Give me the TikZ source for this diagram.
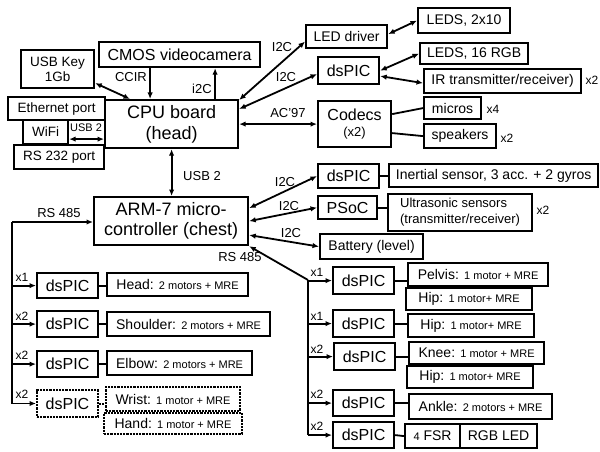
\documentclass[tikz,border=0pt]{standalone}
\usepackage{fontspec}
\setmainfont{Liberation Sans}
\usetikzlibrary{arrows.meta}
\newcommand{\smalltxt}[1]{{\fontsize{11}{12}\selectfont #1}}
\tikzset{
  box/.style={draw, line width=2.2pt, inner sep=0pt, anchor=north west, align=center, font=\fontsize{14}{15}\selectfont},
  sz/.style 2 args={minimum width=#1, minimum height=#2},
  big/.style={font=\fontsize{18}{21}\selectfont},
  chip/.style={font=\fontsize{16}{17}\selectfont},
  dots/.style={densely dotted, line width=2pt},
  lbl/.style={inner sep=0pt, font=\fontsize{13}{14}\selectfont},
  xlbl/.style={inner sep=0pt, font=\fontsize{12}{13}\selectfont},
  link/.style={line width=1.8pt},
}

\begin{document}
\begin{tikzpicture}[x=1pt,y=-1pt,>={Latex[length=6.5pt,width=5.5pt]}]
        \useasboundingbox (0,0) rectangle (600,452);

        % head
        \node[box, sz={73}{38}, font=\fontsize{13.5}{15}\selectfont] (usbkey) at (20,49) {USB Key\\1Gb};
        \node[box, chip, sz={161}{25}] (cmos) at (98,41) {CMOS videocamera};
        \node[box, big, sz={133}{48}] (cpu) at (104,99) {CPU board\\(head)};
        \node[box, sz={97}{23}, font=\fontsize{13.5}{15}\selectfont] (eth) at (7,96) {Ethernet port};
        \node[box, sz={45}{24}, font=\fontsize{13.5}{15}\selectfont] (wifi) at (22,119) {WiFi};
        \node[box, sz={90}{24}, font=\fontsize{13.5}{15}\selectfont] (rs232) at (13,144) {RS 232 port};
        \node[box, big, sz={154}{48}, font=\fontsize{18}{20}\selectfont] (arm) at (93,196) {ARM-7 micro-\\controller (chest)};

        \node[box, sz={81}{23}] (leddrv) at (305,24) {LED driver};
        \node[box, sz={92}{25}] (leds2) at (417,7) {LEDS, 2x10};
        \node[box, sz={108}{21}] (leds16) at (419,42) {LEDS, 16 RGB};
        \node[box, chip, sz={61}{27}] (dspicA) at (317,56) {dsPIC};
        \node[box, sz={157}{24}] (ir) at (423,68) {IR transmitter/receiver)};
        \node[box, chip, sz={73}{46}] (codecs) at (317,100) {Codecs\\[-1pt]{\fontsize{13}{14}\selectfont(x2)}};
        \node[box, sz={57}{22}] (micros) at (423,96) {micros};
        \node[box, sz={72}{24}] (speakers) at (423,123) {speakers};
        \node[xlbl] (xir) at (592,80) {x2};
        \node[xlbl] (xmic) at (493,109) {x4};
        \node[xlbl] (xspk) at (507,138) {x2};

        % chest
        \node[box, chip, sz={61}{24}] (dspicI) at (317,163) {dsPIC};
        \node[box, sz={209}{23}] (inertial) at (388,163) {Inertial sensor, 3 acc. + 2 gyros};
        \node[box, chip, sz={59}{23}] (psoc) at (317,195) {PSoC};
        \node[box, sz={144}{37}, align=left, font=\fontsize{13}{16}\selectfont] (ultra) at (387,193) {Ultrasonic sensors\\(transmitter/receiver)};
        \node[xlbl] (xultra) at (543,210) {x2};
        \node[box, sz={103}{25}] (battery) at (319,233) {Battery (level)};

        % arms
        \node[box, chip, sz={61}{25}] (dspicH) at (36,272) {dsPIC};
        \node[box, sz={141}{23}] (head) at (106,272) {Head: \smalltxt{2 motors + MRE}};
        \node[box, chip, sz={61}{26}] (dspicS) at (36,310) {dsPIC};
        \node[box, sz={163}{24}] (shoulder) at (106,311) {Shoulder: \smalltxt{2 motors + MRE}};
        \node[box, chip, sz={61}{26}] (dspicE) at (36,350) {dsPIC};
        \node[box, sz={145}{24}] (elbow) at (106,350) {Elbow: \smalltxt{2 motors + MRE}};
        \node[box, chip, dots, sz={61}{27}] (dspicW) at (36,389) {dsPIC};
        \node[box, dots, sz={134}{24}] (wrist) at (105,386) {Wrist: \smalltxt{1 motor + MRE}};
        \node[box, dots, sz={138}{21}] (hand) at (103,412) {Hand: \smalltxt{1 motor + MRE}};

        % legs
        \node[box, chip, sz={61}{27}] (dspicP) at (332,266) {dsPIC};
        \node[box, sz={140}{23}] (pelvis) at (407,262) {Pelvis: \smalltxt{1 motor + MRE}};
        \node[box, sz={126}{22}] (hipA) at (405,287) {Hip: \smalltxt{1 motor+ MRE}};
        \node[box, chip, sz={61}{27}] (dspicHp) at (332,309) {dsPIC};
        \node[box, sz={126}{23}] (hipB) at (407,313) {Hip: \smalltxt{1 motor+ MRE}};
        \node[box, chip, sz={61}{27}] (dspicK) at (333,342) {dsPIC};
        \node[box, sz={135}{22}] (knee) at (408,341) {Knee: \smalltxt{1 motor + MRE}};
        \node[box, sz={126}{22}] (hipC) at (406,365) {Hip: \smalltxt{1 motor+ MRE}};
        \node[box, chip, sz={61}{26}] (dspicAn) at (332,389) {dsPIC};
        \node[box, sz={143}{25}] (ankle) at (408,393) {Ankle: \smalltxt{2 motors + MRE}};
        \node[box, chip, sz={61}{26}] (dspicF) at (332,421) {dsPIC};
        \node[box, sz={55}{24}] (fsr) at (404,423) {\smalltxt{4} FSR};
        \node[box, sz={77}{24}] (rgb) at (459,423) {RGB LED};

        % buses
        \coordinate (lbus) at (12,222);
        \coordinate (rbus) at (308,280);

        % links around the CPU board
        \draw[link, <->] ([yshift=-14pt]usbkey.east) -- ([xshift=26pt]cpu.north west);
        \draw[link, ->] ([xshift=-29.5pt]cmos.south) -- ([xshift=-29.5pt]cmos.south |- cpu.north);
        \draw[link, ->] ([xshift=43.5pt]cpu.north) -- ([xshift=43.5pt]cpu.north |- cmos.south);
        \draw[link, <->] ([yshift=-7pt]wifi.east) -- ([yshift=-7pt]wifi.east -| cpu.west);
        \draw[link, <->] (cpu.south) -- (cpu.south |- arm.north);
        \draw[link, <->] ([yshift=-1pt]cpu.north east) -- ([yshift=-5pt]leddrv.west);
        \draw[link, <->] ([yshift=-10pt]cpu.north east) -- ([yshift=-3.5pt]dspicA.west);
        \draw[link, <->] (cpu.east) -- (codecs.west);
        \draw[link, <->] ([yshift=2.5pt]leddrv.east) -- (leds2.west);
        \draw[link, <->] (dspicA.east) -- (leds16.west);
        \draw[link, <->] ([yshift=-5.5pt]dspicA.east) -- ([yshift=-2pt]ir.west);
        \draw[link] ([yshift=10pt]codecs.east) -- (micros.west);
        \draw[link] ([yshift=-9pt]codecs.east) -- (speakers.west);

        \node[lbl] (lccir) at (131,77) {CCIR};
        \node[lbl] (li2c) at (202,89) {i2C};
        \node[lbl, font=\fontsize{11}{12}\selectfont] (lusbw) at (86,128) {USB 2};
        \node[lbl] (lusb) at (202,176) {USB 2};
        \node[lbl] (lled) at (282,47) {I2C};
        \node[lbl] (ldsp) at (286,77) {I2C};
        \node[lbl] (lac) at (288,113) {AC'97};

        % links around the ARM-7
        \draw[link, <->] ([yshift=13pt]arm.east) -- (dspicI.west);
        \draw[link, <->] (arm.east) -- (psoc.west);
        \draw[link, <->] ([yshift=-14pt]arm.east) -- (battery.west);
        \draw[link] (dspicI.east) -- (dspicI.east -| inertial.west);
        \draw[link] (psoc.east) -- (psoc.east -| ultra.west);
        \node[lbl] (lin) at (285,182) {I2C};
        \node[lbl] (lps) at (289,206) {I2C};
        \node[lbl] (lbat) at (291,233) {I2C};

        % left RS 485 bus
        \draw[link, ->] (lbus) -- (lbus -| arm.west);
        \draw[link] (lbus) -- (lbus |- dspicW.west);
        \foreach \d in {dspicH, dspicS, dspicE, dspicW}
          \draw[link, ->] (lbus |- \d.west) -- (\d.west);
        \draw[link] (dspicH.east) -- (dspicH.east -| head.west);
        \draw[link] (dspicS.east) -- (dspicS.east -| shoulder.west);
        \draw[link] (dspicE.east) -- (dspicE.east -| elbow.west);
        \draw[dots] (dspicW.east) -- (dspicW.east -| wrist.west);
        \node[lbl] (lrsl) at (59,213) {RS 485};
        \node[xlbl] (xh) at (22,277) {x1};
        \node[xlbl] (xs) at (22,316) {x2};
        \node[xlbl] (xe) at (22,355) {x2};
        \node[xlbl] (xw) at (22,394) {x2};

        % right RS 485 bus
        \draw[link, <-] (arm.south east) -- (rbus);
        \draw[link] (rbus) -- (rbus |- dspicF.west);
        \foreach \d in {dspicP, dspicHp, dspicK, dspicAn, dspicF}
          \draw[link, ->] (rbus |- \d.west) -- (\d.west);
        \draw[link] (dspicP.east) -- (dspicP.east -| pelvis.west);
        \draw[link] (dspicHp.east) -- (dspicHp.east -| hipB.west);
        \draw[link] (dspicK.east) -- (dspicK.east -| knee.west);
        \draw[link] (dspicAn.east) -- (dspicAn.east -| ankle.west);
        \draw[link] (dspicF.east) -- (fsr.west);
        \node[lbl] (lrsr) at (240,257) {RS 485};
        \node[xlbl] (xp) at (317,272) {x1};
        \node[xlbl] (xhp) at (317,316) {x1};
        \node[xlbl] (xk) at (317,349) {x2};
        \node[xlbl] (xan) at (317,394) {x2};
        \node[xlbl] (xf) at (317,426) {x2};

        \end{tikzpicture}
\end{document}
